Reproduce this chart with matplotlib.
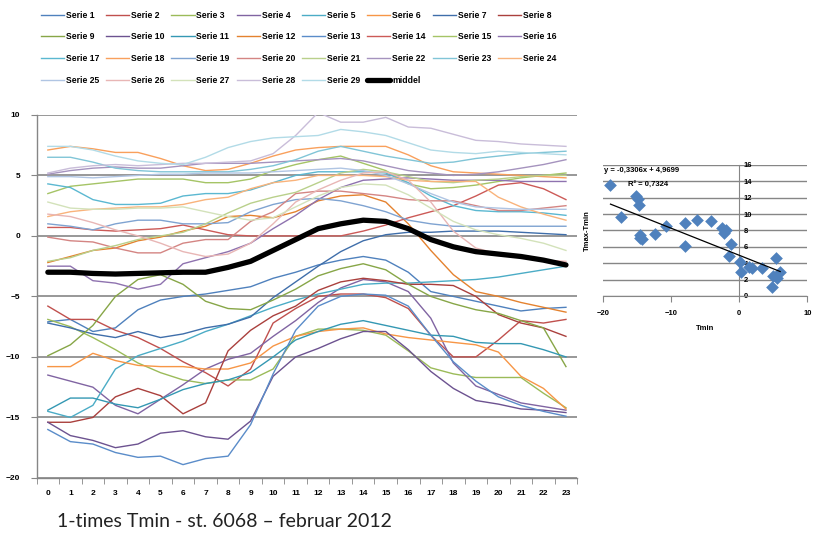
import matplotlib
matplotlib.use("Agg")
import matplotlib.pyplot as plt
import numpy as np

hours = list(range(24))

serie_01 = [-7.1, -6.9, -7.9, -7.6, -6.1, -5.3, -5.0, -4.8, -4.5, -4.2, -3.5, -3.0, -2.4, -2.0, -1.7, -2.0, -3.0, -4.6, -5.0, -5.4, -5.8, -6.2, -6.0, -5.9]
serie_02 = [-5.8, -6.9, -6.9, -7.8, -8.4, -9.3, -10.4, -11.3, -12.4, -11.0, -7.2, -6.0, -5.0, -4.8, -4.8, -5.1, -6.0, -8.2, -10.0, -10.0, -8.6, -7.0, -7.2, -6.9]
serie_03 = [-6.9, -7.5, -8.4, -9.4, -10.5, -11.3, -11.9, -12.2, -11.9, -11.9, -11.0, -8.3, -7.7, -7.7, -7.8, -8.2, -9.5, -10.9, -11.4, -11.7, -11.7, -11.7, -13.0, -14.2]
serie_04 = [-11.5, -12.0, -12.5, -14.0, -14.7, -13.5, -12.3, -11.0, -10.2, -9.7, -8.3, -7.0, -5.5, -4.3, -3.6, -3.8, -4.6, -6.8, -10.5, -12.4, -13.1, -13.8, -14.1, -14.4]
serie_05 = [-14.5, -15.0, -14.0, -11.0, -9.9, -9.3, -8.7, -7.9, -7.3, -6.6, -5.9, -5.3, -4.8, -4.4, -4.0, -3.9, -3.9, -3.8, -3.7, -3.6, -3.4, -3.1, -2.8, -2.5]
serie_06 = [-10.8, -10.8, -9.7, -10.3, -10.7, -10.8, -10.8, -11.0, -11.0, -10.5, -9.1, -8.3, -7.9, -7.7, -7.6, -8.1, -8.4, -8.6, -8.8, -9.0, -9.6, -11.6, -12.6, -14.3]
serie_07 = [-7.2, -7.6, -8.1, -8.4, -7.9, -8.4, -8.1, -7.6, -7.3, -6.7, -5.1, -3.8, -2.5, -1.3, -0.4, 0.1, 0.3, 0.3, 0.4, 0.4, 0.4, 0.3, 0.2, 0.1]
serie_08 = [-15.4, -15.4, -15.0, -13.3, -12.6, -13.2, -14.7, -13.8, -9.5, -7.8, -6.6, -5.8, -4.5, -3.8, -3.5, -3.7, -4.0, -4.0, -4.1, -5.0, -6.5, -7.2, -7.6, -8.3]
serie_09 = [-9.9, -9.0, -7.4, -5.0, -3.6, -3.2, -4.0, -5.4, -6.0, -6.1, -5.3, -4.4, -3.3, -2.7, -2.3, -2.8, -4.0, -5.0, -5.6, -6.1, -6.4, -7.0, -7.6, -10.8]
serie_10 = [-15.4, -16.5, -16.9, -17.5, -17.2, -16.3, -16.1, -16.6, -16.8, -15.3, -11.6, -10.0, -9.3, -8.5, -7.9, -7.9, -9.4, -11.2, -12.6, -13.6, -13.9, -14.3, -14.4, -14.6]
serie_11 = [-14.4, -13.4, -13.4, -13.9, -14.2, -13.5, -12.7, -12.2, -11.9, -11.3, -10.0, -8.6, -7.9, -7.3, -7.0, -7.4, -7.8, -8.2, -8.3, -8.8, -8.9, -8.9, -9.4, -10.0]
serie_12 = [-2.2, -1.7, -1.2, -1.0, -0.4, -0.1, 0.4, 0.8, 1.6, 1.7, 1.5, 2.0, 2.9, 3.3, 3.4, 2.8, 1.0, -1.2, -3.2, -4.6, -5.0, -5.5, -5.9, -6.3]
serie_13 = [-16.0, -17.0, -17.2, -17.9, -18.3, -18.2, -18.9, -18.4, -18.2, -15.6, -11.4, -7.8, -5.8, -5.0, -4.8, -4.9, -5.8, -8.2, -10.4, -12.0, -13.3, -14.0, -14.5, -14.9]
serie_14 = [0.7, 0.7, 0.5, 0.4, 0.5, 0.6, 0.9, 0.5, 0.1, 0.0, 0.0, 0.0, 0.0, 0.0, 0.4, 0.9, 1.5, 2.0, 2.5, 3.3, 4.2, 4.4, 3.9, 3.0]
serie_15 = [3.5, 4.1, 4.3, 4.5, 4.7, 4.7, 4.7, 4.4, 4.4, 4.7, 5.4, 5.9, 6.3, 6.6, 6.0, 5.4, 4.3, 3.9, 4.0, 4.2, 4.5, 4.8, 5.0, 5.2]
serie_16 = [-2.5, -2.5, -3.7, -3.9, -4.4, -4.0, -2.3, -1.8, -1.3, -0.6, 0.6, 1.7, 3.0, 4.0, 4.6, 4.7, 4.8, 4.7, 4.6, 4.6, 4.6, 4.5, 4.5, 4.5]
serie_17 = [4.3, 4.0, 3.0, 2.6, 2.6, 2.7, 3.3, 3.5, 3.5, 3.8, 4.4, 5.0, 5.3, 5.3, 5.3, 5.2, 4.4, 3.3, 2.5, 2.1, 2.0, 2.0, 1.9, 1.7]
serie_18 = [7.1, 7.4, 7.2, 6.9, 6.9, 6.4, 5.8, 5.4, 5.5, 6.0, 6.6, 7.1, 7.3, 7.4, 7.4, 7.4, 6.7, 5.8, 5.3, 5.2, 5.1, 5.0, 4.9, 4.8]
serie_19 = [1.0, 0.8, 0.5, 1.0, 1.3, 1.3, 1.0, 1.0, 1.1, 2.0, 2.6, 3.0, 3.1, 2.9, 2.5, 2.0, 1.3, 1.0, 0.8, 0.8, 0.8, 0.8, 0.8, 0.8]
serie_20 = [-0.1, -0.4, -0.5, -1.0, -1.4, -1.4, -0.6, -0.3, -0.3, 1.2, 2.0, 3.5, 3.7, 3.7, 3.5, 3.3, 3.0, 2.9, 2.9, 2.5, 2.1, 2.1, 2.3, 2.5]
serie_21 = [-2.1, -1.8, -1.2, -0.8, -0.3, 0.0, 0.3, 1.0, 1.9, 2.7, 3.2, 3.6, 4.4, 5.2, 5.5, 5.3, 4.9, 4.5, 4.4, 4.6, 4.7, 4.9, 5.0, 5.0]
serie_22 = [5.1, 5.4, 5.6, 5.7, 5.6, 5.6, 5.8, 6.0, 6.0, 6.0, 6.1, 6.2, 6.3, 6.4, 6.2, 5.8, 5.4, 5.2, 5.0, 5.1, 5.3, 5.6, 5.9, 6.3]
serie_23 = [6.5, 6.5, 6.1, 5.6, 5.4, 5.3, 5.3, 5.3, 5.3, 5.5, 5.8, 6.3, 7.0, 7.4, 7.0, 6.6, 6.3, 6.0, 6.1, 6.4, 6.6, 6.8, 6.9, 7.0]
serie_24 = [1.6, 2.0, 2.2, 2.3, 2.4, 2.4, 2.6, 3.0, 3.2, 3.9, 4.4, 4.6, 5.0, 5.0, 5.0, 4.9, 4.6, 4.5, 4.5, 4.5, 3.2, 2.4, 1.8, 1.3]
serie_25 = [4.9, 4.9, 4.8, 4.9, 5.0, 5.1, 5.1, 5.2, 5.2, 5.2, 5.3, 5.4, 5.5, 5.6, 5.4, 5.0, 4.3, 3.5, 2.8, 2.4, 2.3, 2.2, 2.2, 2.2]
serie_26 = [1.8, 1.6, 1.1, 0.5, 0.0, -0.6, -1.3, -1.7, -1.5, -0.6, 1.0, 2.8, 3.8, 4.6, 5.2, 5.3, 4.6, 2.8, 0.4, -1.0, -1.5, -1.8, -2.0, -2.1]
serie_27 = [2.8, 2.3, 2.2, 2.2, 2.3, 2.3, 2.4, 2.0, 1.6, 1.3, 1.5, 2.4, 3.3, 4.0, 4.3, 4.2, 3.4, 2.3, 1.2, 0.5, 0.1, -0.2, -0.6, -1.2]
serie_28 = [5.2, 5.6, 5.8, 5.9, 5.8, 5.9, 6.0, 6.0, 6.1, 6.2, 6.8, 8.3, 10.2, 9.4, 9.4, 9.8, 9.0, 8.9, 8.4, 7.9, 7.8, 7.6, 7.5, 7.4]
serie_29 = [7.4, 7.4, 7.1, 6.6, 6.2, 6.0, 5.9, 6.5, 7.3, 7.8, 8.1, 8.2, 8.3, 8.8, 8.6, 8.3, 7.7, 7.1, 6.9, 6.8, 7.0, 6.9, 6.8, 6.7]
middel = [-3.0, -3.0, -3.1, -3.15, -3.1, -3.05, -3.0, -3.0, -2.6, -2.1, -1.2, -0.3, 0.6, 1.0, 1.3, 1.2, 0.6, -0.3, -0.9, -1.3, -1.5, -1.7, -2.0, -2.4]

series = [serie_01, serie_02, serie_03, serie_04, serie_05, serie_06, serie_07, serie_08,
          serie_09, serie_10, serie_11, serie_12, serie_13, serie_14, serie_15, serie_16,
          serie_17, serie_18, serie_19, serie_20, serie_21, serie_22, serie_23, serie_24,
          serie_25, serie_26, serie_27, serie_28, serie_29]

# Tmin mot Tmax-Tmin
tmin = [-18.9, -17.3, -15.2, -14.9, -14.7, -14.5, -14.3, -12.4, -10.7, -8.0, -7.9, -6.2, -4.2, -2.6, -2.3,
        -1.2, -1.5, 0.1, 0.2, 1.4, 1.8, 3.4, 5.0, 5.4, 6.0, 4.8, 5.6, -14.6, -2.0]
tspan = [13.5, 9.6, 12.2, 11.8, 11.1, 7.4, 6.9, 7.6, 8.5, 8.9, 6.1, 9.3, 9.1, 8.3, 7.7,
         6.4, 4.9, 4.2, 2.9, 3.6, 3.4, 3.4, 2.5, 4.7, 2.9, 1.1, 2.2, 7.1, 8.0]
trend = [-0.3306, 4.9699]

colors = ['#4F81BD', '#C0504D', '#9BBB59', '#8064A2', '#4BACC6', '#F79646',
          '#3F6EAA', '#AA403D', '#87A647', '#6C5290', '#3498B3', '#E4822F',
          '#5A8CC9', '#CC5A57', '#A5C466', '#8E72AF', '#5BB8D1', '#F9A05C',
          '#7FA3D1', '#D48583', '#B9D08B', '#A593BE', '#81C5D7', '#F9B37B',
          '#B0C5E3', '#E8B6B5', '#D3E2BA', '#C9BDD9', '#B2DBE7']

plt.rcParams['font.family'] = ['Liberation Sans', 'DejaVu Sans']
fig = plt.figure(figsize=(8.13, 5.37), dpi=100)

ax = fig.add_axes([0.045, 0.11, 0.665, 0.676])
handles = []
for i in range(len(series)):
    h, = ax.plot(hours, series[i], color=colors[i], lw=1.0, label=f'Serie {i + 1}')
    handles.append(h)
h, = ax.plot(hours, middel, color='black', lw=3.8, label='middel', solid_capstyle='round')
handles.append(h)

ax.set_xlim(-0.5, 23.5)
ax.set_ylim(-20, 10)
ax.set_yticks([-20, -15, -10, -5, 0, 5, 10])
ax.set_xticks(hours)
ax.set_xticks(np.arange(-0.5, 24, 1), minor=True)
ax.tick_params(axis='x', which='major', length=0, pad=9, labelsize=6)
ax.tick_params(axis='x', which='minor', length=4, color='#868686', direction='out')
ax.tick_params(axis='y', length=4, color='#868686', labelsize=6, pad=8)
for lab in ax.get_xticklabels() + ax.get_yticklabels():
    lab.set_fontweight('bold')
ax.grid(axis='y', color='#868686', lw=1.2)
ax.set_axisbelow(True)
for s in ['top', 'right']:
    ax.spines[s].set_visible(False)
for s in ['left', 'bottom']:
    ax.spines[s].set_color('#868686')
    ax.spines[s].set_linewidth(1.0)

# legenda fylles radvis som i Excel
order = []
for j in range(8):
    for r in range(4):
        k = r * 8 + j
        if k < len(handles):
            order.append(k)
fig.legend([handles[k] for k in order], [handles[k].get_label() for k in order],
           loc='upper left', bbox_to_anchor=(0.045, 0.988), ncol=8, frameon=False,
           handlelength=2.7, handletextpad=0.2, columnspacing=0.8,
           labelspacing=1.48, borderpad=0, prop={'weight': 'bold', 'size': 6.2})

fig.text(0.07, 0.018, '1-times Tmin - st. 6068 \u2013 februar 2012', fontsize=14,
         family=['Lato', 'DejaVu Sans'], color='#222222')

# spredningsplott
ax2 = fig.add_axes([0.7417, 0.4488, 0.2515, 0.244])
ax2.scatter(tmin, tspan, marker='D', s=42, color='#4F81BD', zorder=3, linewidths=0)
xs = np.array([min(tmin), max(tmin)])
ax2.plot(xs, np.polyval(trend, xs), color='black', lw=0.9, zorder=4)
ax2.set_xlim(-20, 10)
ax2.set_ylim(0, 16)
ax2.set_yticks(range(0, 17, 2))
ax2.set_xticks([-20, -10, 0, 10])
ax2.spines['left'].set_position(('data', 0))
ax2.spines['bottom'].set_position(('data', 0))
for s in ['top', 'right']:
    ax2.spines[s].set_visible(False)
for s in ['left', 'bottom']:
    ax2.spines[s].set_color('#868686')
ax2.grid(axis='y', color='#868686', lw=1.0)
ax2.set_axisbelow(True)
ax2.tick_params(axis='y', length=0, pad=-3, labelsize=5.5)
ax2.tick_params(axis='x', length=4, color='#868686', labelsize=5.5, pad=6)
for lab in ax2.get_yticklabels():
    lab.set_horizontalalignment('left')
for lab in ax2.get_xticklabels() + ax2.get_yticklabels():
    lab.set_fontweight('bold')
ax2.text(-19.8, 15.2, 'y = -0,3306x + 4,9699', fontsize=5.5, fontweight='bold')
ax2.text(-16.4, 13.4, 'R\u00b2 = 0,7324', fontsize=5.5, fontweight='bold')
ax2.set_xlabel('Tmin', fontsize=5.5, fontweight='bold', labelpad=6)
ax2.set_ylabel('Tmax-Tmin', fontsize=5.5, fontweight='bold')
ax2.yaxis.set_label_coords(-0.06, 0.5)

fig.savefig('out.png', dpi=100)
